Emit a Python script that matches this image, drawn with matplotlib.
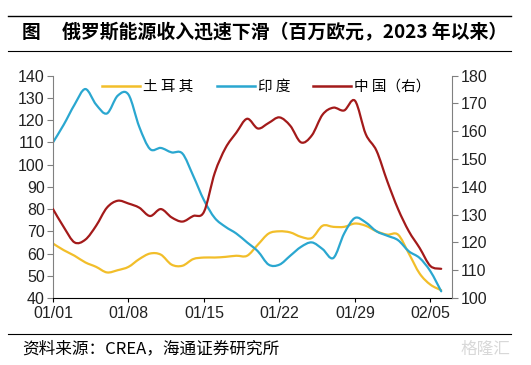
import numpy as np
import matplotlib.pyplot as plt
from matplotlib.lines import Line2D
from matplotlib.path import Path
from matplotlib.patches import PathPatch

plt.rcParams['font.family'] = ['Liberation Sans', 'Noto Sans CJK SC', 'DejaVu Sans']

# 日期（2023-01-01 起，每日）
dager = np.arange(37)
xtick_pos = [0, 7, 14, 21, 28, 35]
xtick_labels = ['01/01', '01/08', '01/15', '01/22', '01/29', '02/05']

# 土耳其（左轴，百万欧元）
turkey = [64.5, 61.5, 59, 56, 54, 51.5, 52.5, 54, 57.5, 60, 59.5, 55, 54.5,
          57.5, 58.2, 58.2, 58.5, 59, 59, 64, 69, 70, 69.5, 67.5, 67, 72.5,
          72, 72, 73.5, 72.5, 70, 68.5, 68.5, 60, 51, 46, 43.5]
# 印度（左轴）
india = [110, 118, 127, 134, 127, 123, 131, 131.5, 117, 107, 107.5, 105.5, 105,
         95, 84, 76, 72, 69, 65, 61, 55, 55, 59, 63, 65, 62, 58, 69, 76, 74,
         70, 68, 66, 61, 58, 52, 43]
# 中国（右轴）
china = [132, 125.5, 120, 121, 126, 132.5, 135, 134, 132.5, 129.5, 132, 129,
         127.5, 129.5, 131, 145, 154, 159.5, 164.5, 161, 163, 165, 162, 156,
         158.5, 166, 168.5, 167.5, 171, 159, 153, 142, 132, 124, 118, 111.5,
         110.5]

c_tr = '#F2BE2A'
c_in = '#2AA7D0'
c_cn = '#A31A1A'


def glatt_linje(a, x, y, farge):
    # Excel-aktig glatting: kubiske Bezier-segmenter mellom datapunktene
    p = np.column_stack([x, y]).astype(float)
    verts = [p[0]]
    codes = [Path.MOVETO]
    n = len(p)
    for i in range(n - 1):
        p0 = p[max(i - 1, 0)]
        p3 = p[min(i + 2, n - 1)]
        c1 = p[i] + (p[i + 1] - p0) / 6
        c2 = p[i + 1] - (p3 - p[i]) / 6
        verts += [c1, c2, p[i + 1]]
        codes += [Path.CURVE4] * 3
    a.add_patch(PathPatch(Path(verts, codes), fill=False, edgecolor=farge,
                          lw=1.6, capstyle='round', joinstyle='round'))


fig = plt.figure(figsize=(5.31, 3.65), dpi=100)
ax = fig.add_axes([0.0998, 0.1836, 0.7514, 0.609])
ax2 = ax.twinx()

glatt_linje(ax, dager, turkey, c_tr)
glatt_linje(ax, dager, india, c_in)
glatt_linje(ax2, dager, china, c_cn)

ax.set_xlim(0, 37)
ax.set_ylim(40, 140)
ax.set_yticks(np.arange(40, 141, 10))
ax2.set_ylim(100, 180)
ax2.set_yticks(np.arange(100, 181, 10))
ax.set_xticks(xtick_pos)
ax.set_xticklabels(xtick_labels)

for a in (ax, ax2):
    a.spines['top'].set_visible(False)
ax.spines['right'].set_visible(False)
ax.spines['left'].set_color('#808080')
ax2.spines['left'].set_visible(False)
ax2.spines['bottom'].set_visible(False)
ax2.spines['right'].set_color('#808080')
ax.spines['bottom'].set_color('black')

ax.tick_params(axis='y', colors='#808080', labelcolor='#222222', labelsize=11.5,
               length=4, pad=2)
ax2.tick_params(axis='y', colors='#808080', labelcolor='#222222', labelsize=11.5,
                length=4, pad=2)
ax.tick_params(axis='x', colors='black', labelcolor='#222222', labelsize=11.5,
               length=3, pad=3)

handles = [Line2D([], [], color=c_tr, lw=1.8),
           Line2D([], [], color=c_in, lw=1.8),
           Line2D([], [], color=c_cn, lw=1.8)]
ax.legend(handles, ['土 耳 其', '印 度', '中 国（右）'], ncol=3, frameon=False,
          loc='upper center', bbox_to_anchor=(0.535, 1.04),
          handlelength=2.6, handletextpad=0.2, columnspacing=1.6,
          prop={'family': ['Noto Sans CJK SC'], 'size': 10.5})

# 标题与来源
fig.add_artist(Line2D([0.015, 0.963], [1 - 16 / 365, 1 - 16 / 365],
                      color='black', lw=1))
fig.add_artist(Line2D([0.015, 0.963], [1 - 50.5 / 365, 1 - 50.5 / 365],
                      color='black', lw=0.8))
fig.add_artist(Line2D([0.015, 0.963], [1 - 334 / 365, 1 - 334 / 365],
                      color='black', lw=0.8))
fig.text(22 / 531, 1 - 33 / 365, '图', fontsize=13.5, fontweight='bold',
         family=['Noto Sans CJK SC'], va='center', ha='left')
fig.text(62 / 531, 1 - 33 / 365, '俄罗斯能源收入迅速下滑（百万欧元，2023 年以来）',
         fontsize=13.6, fontweight='bold', family=['Noto Sans CJK SC', 'DejaVu Sans'],
         va='center', ha='left')
fig.text(22 / 531, 1 - 349 / 365, '资料来源：CREA，海通证券研究所', fontsize=12,
         family=['Noto Sans CJK SC', 'DejaVu Sans'], va='center', ha='left')
fig.text(0.962, 1 - 349 / 365, '格隆汇', fontsize=12, color='#d8d8d8',
         family=['Noto Sans CJK SC'], va='center', ha='right')

fig.savefig('out.png', dpi=100)
